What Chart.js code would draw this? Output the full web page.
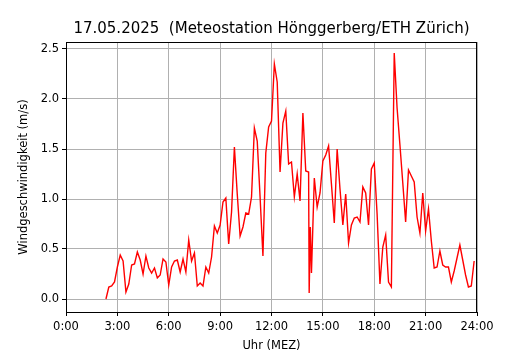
<!DOCTYPE html>
<html>
<head>
<meta charset="utf-8">
<script src="https://cdn.jsdelivr.net/npm/chart.js@4"></script>
<style>
  html, body { margin: 0; padding: 0; background: #fff; }
  #box { width: 530px; height: 350px; }
</style>
</head>
<body>
<div id="box"><canvas id="windChart"></canvas></div>
<script>
// Messzeiten (Uhr) und Windgeschwindigkeit (m/s)
const times = [
  '2:20', '2:30', '2:40', '2:50', '3:00', '3:10', '3:20', '3:30', '3:40', '3:50',
  '4:00', '4:10', '4:20', '4:30', '4:40', '4:50', '5:00', '5:10', '5:20', '5:30',
  '5:40', '5:50', '6:00', '6:10', '6:20', '6:30', '6:40', '6:50', '7:00', '7:10',
  '7:20', '7:30', '7:40', '7:50', '8:00', '8:10', '8:20', '8:30', '8:40', '8:50',
  '9:00', '9:10', '9:20', '9:30', '9:40', '9:50', '10:00', '10:10', '10:20', '10:30',
  '10:40', '10:50', '11:00', '11:10', '11:20', '11:30', '11:40', '11:50', '12:00', '12:10',
  '12:20', '12:30', '12:40', '12:50', '13:00', '13:10', '13:20', '13:30', '13:40', '13:50',
  '14:00', '14:10', '14:12', '14:16', '14:20', '14:30', '14:40', '14:50', '15:00', '15:10',
  '15:20', '15:30', '15:40', '15:50', '16:00', '16:10', '16:20', '16:30', '16:40', '16:50',
  '17:00', '17:10', '17:20', '17:30', '17:40', '17:50', '18:00', '18:10', '18:20', '18:30',
  '18:40', '18:50', '19:00', '19:10', '19:20', '19:30', '19:40', '19:50', '20:00', '20:10',
  '20:20', '20:30', '20:40', '20:50', '21:00', '21:10', '21:20', '21:30', '21:40', '21:50',
  '22:00', '22:10', '22:20', '22:30', '22:40', '22:50', '23:00', '23:10', '23:20', '23:30',
  '23:40', '23:50'
];
const windSpeed = [
  0.00, 0.12, 0.13, 0.17, 0.32, 0.44, 0.38, 0.07, 0.15, 0.34,
  0.35, 0.47, 0.39, 0.25, 0.43, 0.31, 0.26, 0.31, 0.21, 0.24,
  0.40, 0.37, 0.14, 0.32, 0.38, 0.39, 0.27, 0.40, 0.27, 0.59,
  0.38, 0.46, 0.13, 0.16, 0.13, 0.32, 0.26, 0.42, 0.73, 0.66,
  0.74, 0.97, 1.01, 0.55, 0.87, 1.52, 1.05, 0.63, 0.72, 0.86,
  0.85, 1.02, 1.71, 1.58, 1.02, 0.43, 1.46, 1.72, 1.78, 2.35,
  2.17, 1.27, 1.76, 1.88, 1.35, 1.37, 1.02, 1.25, 0.98, 1.86,
  1.28, 1.27, 0.06, 0.72, 0.26, 1.21, 0.92, 1.06, 1.38, 1.44,
  1.53, 1.15, 0.76, 1.50, 1.10, 0.74, 1.05, 0.56, 0.74, 0.81,
  0.82, 0.77, 1.12, 1.06, 0.74, 1.30, 1.36, 0.85, 0.15, 0.52,
  0.64, 0.17, 0.12, 2.46, 1.91, 1.54, 1.16, 0.77, 1.29, 1.23,
  1.17, 0.82, 0.66, 1.06, 0.68, 0.90, 0.58, 0.31, 0.32, 0.48,
  0.34, 0.32, 0.32, 0.17, 0.28, 0.41, 0.54, 0.39, 0.24, 0.12,
  0.13, 0.38
];
const xTicks = [0, 3, 6, 9, 12, 15, 18, 21, 24];
const yTicks = [0.0, 0.5, 1.0, 1.5, 2.0, 2.5];

const chartTitle = '17.05.2025  (Meteostation Hönggerberg/ETH Zürich)';
const font = 'DejaVu Sans';

// "H:MM" -> Stunden als Zahl
function toHours(t) {
  const [h, m] = t.split(':').map(Number);
  return h + m / 60;
}

const points = times.map((t, i) => ({ x: toHours(t), y: windSpeed[i] }));

// Rahmen rundherum wie bei matplotlib
const frame = {
  id: 'frame',
  afterDraw(chart) {
    const { ctx, chartArea: a } = chart;
    ctx.save();
    ctx.strokeStyle = '#000';
    ctx.lineWidth = 1;
    ctx.strokeRect(Math.round(a.left) + 0.5, Math.round(a.top) + 0.5,
      Math.round(a.right - a.left) - 1, Math.round(a.bottom - a.top));
    ctx.restore();
  }
};

new Chart(document.getElementById('windChart'), {
  type: 'scatter',
  data: {
    datasets: [{
      data: points,
      showLine: true,
      borderColor: '#ff0000',
      borderWidth: 1.4,
      pointRadius: 0,
      tension: 0,
    }],
  },
  options: {
    responsive: true,
    maintainAspectRatio: false,
    animation: false,
    layout: { padding: { right: 53, top: 0, left: 0, bottom: 0 } },
    plugins: {
      legend: { display: false },
      tooltip: { enabled: false },
      title: {
        display: true,
        text: chartTitle,
        fullSize: false,
        color: '#000',
        font: { family: font, size: 15, weight: 'normal' },
        padding: { top: 20, bottom: 4 },
      },
    },
    scales: {
      x: {
        type: 'linear',
        min: 0,
        max: 24,
        afterBuildTicks: s => { s.ticks = xTicks.map(v => ({ value: v })); },
        afterFit: s => { s.height = 38; },
        ticks: {
          color: '#000',
          font: { family: font, size: 11.5 },
          padding: 4,
          maxRotation: 0,
          callback: v => v + ':00',
        },
        grid: { color: '#b0b0b0', tickColor: '#000', tickLength: 4, lineWidth: 1 },
        border: { color: '#000' },
        title: {
          display: true,
          text: 'Uhr (MEZ)',
          color: '#000',
          font: { family: font, size: 11.5 },
          padding: { top: 0, bottom: -3 },
        },
      },
      y: {
        min: -0.13,
        max: 2.57,
        afterBuildTicks: s => { s.ticks = yTicks.map(v => ({ value: v })); },
        afterFit: s => { s.width = 66; },
        ticks: {
          color: '#000',
          font: { family: font, size: 11.5 },
          padding: 3,
          callback: v => v.toFixed(1),
        },
        grid: { color: '#b0b0b0', tickColor: '#000', tickLength: 4, lineWidth: 1 },
        border: { color: '#000' },
        title: {
          display: true,
          text: 'Windgeschwindigkeit (m/s)',
          color: '#000',
          font: { family: font, size: 11.5 },
          padding: { top: 17, bottom: 0 },
        },
      },
    },
  },
  plugins: [frame],
});
</script>
</body>
</html>
